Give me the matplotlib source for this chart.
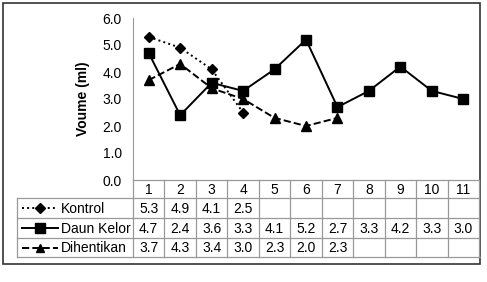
import matplotlib.pyplot as plt
import numpy as np

plt.rcParams['font.family'] = ['Liberation Sans', 'DejaVu Sans']

# data
days = [1, 2, 3, 4, 5, 6, 7, 8, 9, 10, 11]
kontrol = [5.3, 4.9, 4.1, 2.5]
daun_kelor = [4.7, 2.4, 3.6, 3.3, 4.1, 5.2, 2.7, 3.3, 4.2, 3.3, 3.0]
dihentikan = [3.7, 4.3, 3.4, 3.0, 2.3, 2.0, 2.3]
series_names = ['Kontrol', 'Daun Kelor', 'Dihentikan']
series_values = [kontrol, daun_kelor, dihentikan]
styles = [(':', 'D', 5.5), ('-', 's', 7), ('--', '^', 6.5)]
y_ticks = [0.0, 1.0, 2.0, 3.0, 4.0, 5.0, 6.0]

W, H = 487, 282
fig = plt.figure(figsize=(W / 100, H / 100), dpi=100)
fs = 10

def px(x0, y0, x1, y1):
    # pixel box -> figure fraction
    return [x0 / W, 1 - y1 / H, (x1 - x0) / W, (y1 - y0) / H]

# outer frame
frame = fig.add_axes([0, 0, 1, 1])
frame.set_xlim(0, W)
frame.set_ylim(H, 0)
frame.axis('off')
frame.add_patch(plt.Rectangle((3, 3), 477, 261, fill=False, lw=1.2, ec='#333333'))

# main plot
left, right, top, bottom = 133, 479, 18, 180
ax = fig.add_axes(px(left, top, right, bottom))
for i, (vals, (ls, mk, ms)) in enumerate(zip(series_values, styles)):
    ax.plot(days[:len(vals)], vals, linestyle=ls, marker=mk, color='black',
            markersize=ms, lw=1.4, zorder=3 - i * 0.1)
ax.set_xlim(0.5, 11.5)
ax.set_ylim(0, 6)
ax.set_yticks(y_ticks)
ax.set_yticklabels([f'{v:.1f}' for v in y_ticks], fontsize=fs)
ax.tick_params(axis='y', length=0, pad=8)
ax.set_xticks([])
for s in ['top', 'right', 'bottom']:
    ax.spines[s].set_visible(False)
ax.spines['left'].set_color('#999999')
ax.set_ylabel('Voume (ml)', fontsize=fs, fontweight='bold', labelpad=9)

# data table under the plot
col_w = (right - left) / len(days)
label_left = 17
row_tops = [180, 198, 218, 238, 257]
tab = fig.add_axes([0, 0, 1, 1])
tab.set_xlim(0, W)
tab.set_ylim(H, 0)
tab.axis('off')
grid = '#999999'
for r in range(4):
    x0 = left if r == 0 else label_left
    tab.plot([x0, right], [row_tops[r], row_tops[r]], color=grid, lw=0.9)
tab.plot([label_left, right + 1], [row_tops[4], row_tops[4]], color=grid, lw=0.9)
tab.plot([label_left, label_left], [row_tops[1], row_tops[4]], color=grid, lw=0.9)
for c in range(len(days) + 1):
    x = left + c * col_w
    tab.plot([x, x], [row_tops[0], row_tops[4]], color=grid, lw=0.9)
for c, d in enumerate(days):
    xc = left + (c + 0.5) * col_w
    tab.text(xc, (row_tops[0] + row_tops[1]) / 2 + 1, str(d), ha='center', va='center', fontsize=fs)
for r, (name, vals, (ls, mk, ms)) in enumerate(zip(series_names, series_values, styles)):
    yc = (row_tops[r + 1] + row_tops[r + 2]) / 2 + 1
    tab.plot([22, 58], [yc - 1, yc - 1], linestyle=ls, color='black', lw=1.4)
    tab.plot([40], [yc - 1], marker=mk, color='black', markersize=ms - 0.5)
    tab.text(61, yc, name, ha='left', va='center', fontsize=fs)
    for c, v in enumerate(vals):
        xc = left + (c + 0.5) * col_w
        tab.text(xc, yc, f'{v:.1f}', ha='center', va='center', fontsize=fs)

fig.savefig('out.png', dpi=100)
